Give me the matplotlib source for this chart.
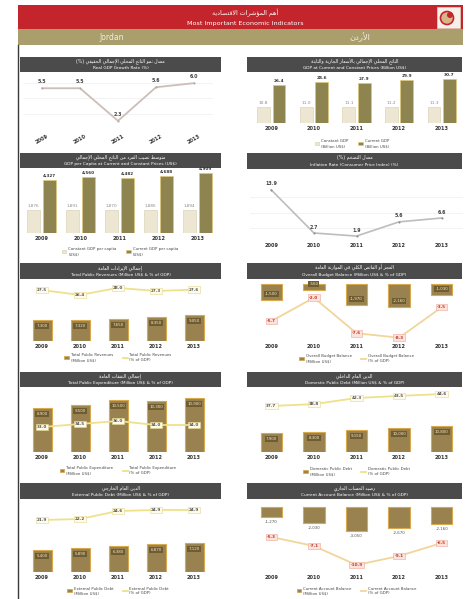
import matplotlib
matplotlib.use('Agg')
import matplotlib.pyplot as plt
from matplotlib.patches import Rectangle, Circle, Patch
from matplotlib.lines import Line2D

W, H = 467, 599

# ---------------- data ----------------
years = ['2009', '2010', '2011', '2012', '2013']
growth = [5.5, 5.5, 2.3, 5.6, 6.0]
gdp_constant = [10.8, 11.0, 11.1, 11.2, 11.3]
gdp_current = [26.4, 28.6, 27.9, 29.9, 30.7]
pc_constant = [1876, 1891, 1870, 1886, 1894]
pc_current = [4327, 4560, 4482, 4688, 4909]
inflation = [13.9, 2.7, 1.9, 5.6, 6.6]
rev_musd = [7300, 7320, 7650, 8350, 9050]
rev_pct = [27.5, 26.4, 28.0, 27.3, 27.6]
bal_musd = [-1500, -560, -1970, -2160, -1030]
bal_pct = [-5.7, -2.0, -7.6, -8.3, -3.5]
exp_musd = [8900, 9500, 10500, 10300, 10900]
exp_pct = [33.0, 34.5, 36.0, 34.0, 34.0]
ddebt_musd = [7900, 8300, 9150, 10000, 10800]
ddebt_pct = [37.7, 38.8, 42.3, 43.5, 44.6]
edebt_musd = [5400, 5890, 6380, 6870, 7120]
edebt_pct = [21.9, 22.2, 24.6, 24.9, 24.9]
ca_musd = [-1270, -2030, -3050, -2670, -2160]
ca_pct = [-5.3, -7.1, -10.9, -9.1, -6.5]

# ---------------- simple Arabic shaping ----------------
_RJ = {'آ': 0xFE81, 'أ': 0xFE83, 'ؤ': 0xFE85, 'إ': 0xFE87, 'ا': 0xFE8D, 'ة': 0xFE93,
       'د': 0xFEA9, 'ذ': 0xFEAB, 'ر': 0xFEAD, 'ز': 0xFEAF, 'و': 0xFEED, 'ى': 0xFEEF}
_DJ = {'ئ': 0xFE89, 'ب': 0xFE8F, 'ت': 0xFE95, 'ث': 0xFE99, 'ج': 0xFE9D, 'ح': 0xFEA1,
       'خ': 0xFEA5, 'س': 0xFEB1, 'ش': 0xFEB5, 'ص': 0xFEB9, 'ض': 0xFEBD, 'ط': 0xFEC1,
       'ظ': 0xFEC5, 'ع': 0xFEC9, 'غ': 0xFECD, 'ف': 0xFED1, 'ق': 0xFED5, 'ك': 0xFED9,
       'ل': 0xFEDD, 'م': 0xFEE1, 'ن': 0xFEE5, 'ه': 0xFEE9, 'ي': 0xFEF1}
_LA = {'آ': 0xFEF5, 'أ': 0xFEF7, 'إ': 0xFEF9, 'ا': 0xFEFB}


def ar(s):
    out = []
    i, n = 0, len(s)
    while i < n:
        c = s[i]
        prev = s[i - 1] if i > 0 else ''
        jp = prev in _DJ
        if c == 'ل' and i + 1 < n and s[i + 1] in _LA:
            out.append(chr(_LA[s[i + 1]] + (1 if jp else 0)))
            i += 2
            continue
        if c in _RJ:
            out.append(chr(_RJ[c] + (1 if jp else 0)))
        elif c in _DJ:
            nxt = s[i + 1] if i + 1 < n else ''
            jn = nxt in _DJ or nxt in _RJ
            k = 3 if (jp and jn) else 1 if jp else 2 if jn else 0
            out.append(chr(_DJ[c] + k))
        else:
            out.append(c)
        i += 1
    return ''.join(reversed(out)).translate(str.maketrans('()', ')('))


plt.rcParams['font.family'] = ['DejaVu Sans']

fig = plt.figure(figsize=(W / 100, H / 100), dpi=100)
bg = fig.add_axes([0, 0, 1, 1])
bg.set_xlim(0, W)
bg.set_ylim(H, 0)
bg.axis('off')

RED = '#c4252c'
OLIVE = '#a99e6c'
TBAR = '#4b4b4b'
DARKBAR = '#8e844f'
LIGHTBAR = '#ece6d2'
BROWN = '#998250'
GOLD = '#d8a94e'
YEL = '#efe18a'

# header
bg.add_patch(Rectangle((18, 5), 445, 24, color=RED, lw=0))
bg.add_patch(Rectangle((18, 29), 445, 16, color=OLIVE, lw=0))
bg.text(245, 12.5, ar('أهم المؤشرات الاقتصادية'), color='white', fontsize=4.6,
        ha='center', va='center')
bg.text(245, 23, 'Most Important Economic Indicators', color='white', fontsize=4.6,
        ha='center', va='center')
bg.text(112, 37, 'Jordan', color='#f3eedc', fontsize=5.5, ha='center', va='center')
bg.text(360, 37, ar('الأردن'), color='#f3eedc', fontsize=6, ha='center', va='center')
bg.add_patch(Rectangle((437, 6.5), 23, 21, facecolor='#f6f0e8', edgecolor='#e0d0c0', lw=0.5))
bg.add_patch(Circle((447, 18), 6.5, facecolor='#d9b48a', edgecolor=RED, lw=1.2))
bg.add_patch(Circle((450, 15), 3, facecolor=RED, lw=0))
# left border line
bg.plot([18, 18], [45, 599], color='#3a3a3a', lw=1.0)

# title bars
titles = [
    (20, 221, 57, 72, 'معدل نمو الناتج المحلي الإجمالي الحقيقي (%)', 'Real GDP Growth Rate (%)'),
    (247, 462, 57, 72, 'الناتج المحلي الإجمالي بالأسعار الجارية والثابتة',
     'GDP at Current and Constant Prices (Billion US\\$)'),
    (20, 221, 153, 168, 'متوسط نصيب الفرد من الناتج المحلي الإجمالي',
     'GDP per Capita at Current and Constant Prices (US\\$)'),
    (247, 462, 153, 169, 'معدل التضخم (%)', 'Inflation Rate (Consumer Price Index) (%)'),
    (20, 221, 263, 279, 'إجمالي الإيرادات العامة', 'Total Public Revenues (Million US\\$ & % of GDP)'),
    (247, 462, 263, 279, 'العجز أو الفائض الكلي في الموازنة العامة',
     'Overall Budget Balance (Million US\\$ & % of GDP)'),
    (20, 221, 372, 387, 'إجمالي النفقات العامة', 'Total Public Expenditure (Million US\\$ & % of GDP)'),
    (247, 462, 372, 387, 'الدين العام الداخلي', 'Domestic Public Debt (Million US\\$ & % of GDP)'),
    (20, 221, 483, 499, 'الدين العام الخارجي', 'External Public Debt (Million US\\$ & % of GDP)'),
    (247, 462, 483, 499, 'رصيد الحساب الجاري', 'Current Account Balance (Million US\\$ & % of GDP)'),
]
for x0, x1, y0, y1, t_ar, t_en in titles:
    bg.add_patch(Rectangle((x0, y0), x1 - x0, y1 - y0, color=TBAR, lw=0))
    xc = (x0 + x1) / 2
    bg.text(xc, y0 + (y1 - y0) * 0.3, ar(t_ar), color='white', fontsize=3.3, ha='center', va='center')
    bg.text(xc, y0 + (y1 - y0) * 0.72, t_en, color='white', fontsize=3.1, ha='center', va='center')


def add_ax(x0, y0, x1, y1):
    a = fig.add_axes([x0 / W, 1 - y1 / H, (x1 - x0) / W, (y1 - y0) / H])
    a.patch.set_alpha(0)
    for s in a.spines.values():
        s.set_visible(False)
    a.tick_params(length=0, labelsize=3.6, pad=2.5, labelcolor='#333333')
    a.set_yticks([])
    a.set_xlim(-0.5, 4.5)
    return a


def yr_ticks(a, rot=0):
    a.set_xticks(range(len(years)))
    a.set_xticklabels(years, fontweight='bold', rotation=rot)


def legend(handles, labels, x, y):
    fig.legend(handles, labels, loc='upper center', bbox_to_anchor=(x / W, 1 - y / H),
               ncol=2, fontsize=2.8, frameon=False, handlelength=1.2, handleheight=0.8,
               columnspacing=2.5, handletextpad=0.5, labelcolor='#444444')


xs = list(range(5))
LX = (23, 213)     # left column axes x range
RX = (250, 463)    # right column axes x range

# ---- A: real GDP growth (line) ----
a = add_ax(LX[0], 75, LX[1], 130)
a.set_ylim(1.4, 6.8)
a.set_yticks([3, 4.5, 6])
a.set_yticklabels([])
a.grid(axis='y', color='#eeeeee', lw=0.5)
a.plot(xs, growth, color='#cbbfb8', lw=1.3, marker='o', ms=1.5, mfc='#b8aaa2', mec='none')
for xi, v in zip(xs, growth):
    a.annotate(f'{v:.1f}', (xi, v), xytext=(0, 3), textcoords='offset points',
               ha='center', va='bottom', fontsize=3.4, color='#444444', fontweight='bold')
yr_ticks(a, rot=30)

# ---- B: GDP constant / current (grouped bars) ----
a = add_ax(RX[0], 75, RX[1], 123)
a.set_ylim(0, 33.3)
b1 = a.bar([x - 0.18 for x in xs], gdp_constant, 0.3, color=LIGHTBAR, edgecolor='#d5ccae', lw=0.4)
b2 = a.bar([x + 0.18 for x in xs], gdp_current, 0.3, color=DARKBAR, edgecolor='#e0c879', lw=0.5)
for xi, v in zip(xs, gdp_constant):
    a.annotate(f'{v:.1f}', (xi - 0.18, v), xytext=(0, 1.5), textcoords='offset points',
               ha='center', va='bottom', fontsize=3.1, color='#8a8a8a')
for xi, v in zip(xs, gdp_current):
    a.annotate(f'{v:.1f}', (xi + 0.18, v), xytext=(0, 1.5), textcoords='offset points',
               ha='center', va='bottom', fontsize=3.1, color='#333333', fontweight='bold')
yr_ticks(a)
legend([b1, b2], ['Constant GDP\n(Billion US\\$)', 'Current GDP\n(Billion US\\$)'], 352, 136)

# ---- C: GDP per capita (grouped bars) ----
a = add_ax(22, 168, 217, 233)
a.set_ylim(0, 5307)
b1 = a.bar([x - 0.2 for x in xs], pc_constant, 0.34, color=LIGHTBAR, edgecolor='#d5ccae', lw=0.4)
b2 = a.bar([x + 0.2 for x in xs], pc_current, 0.34, color=DARKBAR, edgecolor='#e0c879', lw=0.5)
for xi, v in zip(xs, pc_constant):
    a.annotate(f'{v:,}', (xi - 0.2, v), xytext=(0, 1.5), textcoords='offset points',
               ha='center', va='bottom', fontsize=3.0, color='#8a8a8a')
for xi, v in zip(xs, pc_current):
    a.annotate(f'{v:,}', (xi + 0.2, v), xytext=(0, 1.5), textcoords='offset points',
               ha='center', va='bottom', fontsize=3.0, color='#333333', fontweight='bold')
yr_ticks(a)
legend([b1, b2], ['Constant GDP per capita\n(US\\$)', 'Current GDP per capita\n(US\\$)'], 120, 244)

# ---- D: inflation (line) ----
a = add_ax(RX[0], 178, RX[1], 240)
a.set_ylim(0.88, 17.0)
a.set_yticks([4, 8, 12])
a.set_yticklabels([])
a.grid(axis='y', color='#eeeeee', lw=0.5)
a.plot(xs, inflation, color='#bdbdbd', lw=1.2, marker='o', ms=1.5, mfc='#8f8f8f', mec='none')
for xi, v in zip(xs, inflation):
    a.annotate(f'{v:.1f}', (xi, v), xytext=(0, 2.5), textcoords='offset points',
               ha='center', va='bottom', fontsize=3.4, color='#444444', fontweight='bold')
yr_ticks(a)


def bar_line(x0, x1, y0, y1, bars, line, ylim_b, ylim_l, neg=False, pink=False,
             bar_lab='inside', leg_labels=None, leg_y=None):
    a = add_ax(x0, y0, x1, y1)
    a.set_ylim(*ylim_b)
    bb = a.bar(xs, bars, 0.5, color=BROWN, edgecolor=GOLD, lw=0.8)
    for xi, v in zip(xs, bars):
        txt = f'{v:,}'
        if bar_lab == 'inside':
            off = (0, 4) if neg else (0, -4.5)
            a.annotate(txt, (xi, v), xytext=off, textcoords='offset points', ha='center',
                       va='center', fontsize=2.9, color='#f3e8c8',
                       bbox=dict(boxstyle='square,pad=0.25', fc='#6f5c30', ec='none'))
        else:
            a.annotate(txt, (xi, v), xytext=(0, -2), textcoords='offset points', ha='center',
                       va='top', fontsize=2.9, color='#555555')
    yr_ticks(a)
    t = a.twinx()
    t.patch.set_alpha(0)
    for s in t.spines.values():
        s.set_visible(False)
    t.set_yticks([])
    t.set_ylim(*ylim_l)
    lc = '#f2d59a' if pink else YEL
    ln, = t.plot(xs, line, color=lc, lw=1.3)
    for xi, v in zip(xs, line):
        if pink:
            bbox = dict(boxstyle='square,pad=0.3', fc='#fbe2da', ec='#f0a896', lw=0.4)
            col = '#c0392b'
        else:
            bbox = dict(boxstyle='square,pad=0.3', fc='#fffbea', ec='#e4d78e', lw=0.4)
            col = '#555555'
        t.annotate(f'{v:.1f}', (xi, v), ha='center', va='center', fontsize=3.0,
                   color=col, fontweight='bold', bbox=bbox)
    hb = Patch(facecolor=BROWN, edgecolor=GOLD, lw=0.6)
    hl = Line2D([], [], color=lc, lw=1.3)
    legend([hb, hl], leg_labels, (x0 + x1) / 2, leg_y)


# ---- E: revenues ----
bar_line(LX[0], LX[1], 280, 341, rev_musd, rev_pct, (0, 21200), (15.9, 29.8),
         leg_labels=['Total Public Revenues\n(Million US\\$)', 'Total Public Revenues\n(% of GDP)'],
         leg_y=350)
# ---- F: budget balance ----
bar_line(RX[0], RX[1], 282, 341, bal_musd, bal_pct, (-5347, 188), (-8.82, 0.47), neg=True,
         pink=True,
         leg_labels=['Overall Budget Balance\n(Million US\\$)', 'Overall Budget Balance\n(% of GDP)'],
         leg_y=351)
# ---- G: expenditure ----
bar_line(LX[0], LX[1], 392, 452, exp_musd, exp_pct, (0, 12138), (20.5, 50.5),
         leg_labels=['Total Public Expenditure\n(Million US\\$)', 'Total Public Expenditure\n(% of GDP)'],
         leg_y=463)
# ---- H: domestic debt ----
bar_line(RX[0], RX[1], 390, 452, ddebt_musd, ddebt_pct, (0, 25792), (11.3, 46.9),
         leg_labels=['Domestic Public Debt\n(Million US\\$)', 'Domestic Public Debt\n(% of GDP)'],
         leg_y=464)
# ---- I: external debt ----
bar_line(LX[0], LX[1], 505, 572, edebt_musd, edebt_pct, (0, 16450), (6.3, 26.4),
         leg_labels=['External Public Debt\n(Million US\\$)', 'External Public Debt\n(% of GDP)'],
         leg_y=583)
# ---- J: current account ----
bar_line(RX[0], RX[1], 505, 572, ca_musd, ca_pct, (-8255, 254), (-12.3, 1.1), neg=True,
         pink=True, bar_lab='below',
         leg_labels=['Current Account Balance\n(Million US\\$)', 'Current Account Balance\n(% of GDP)'],
         leg_y=583)

fig.savefig('out.png', dpi=100, facecolor='white')
